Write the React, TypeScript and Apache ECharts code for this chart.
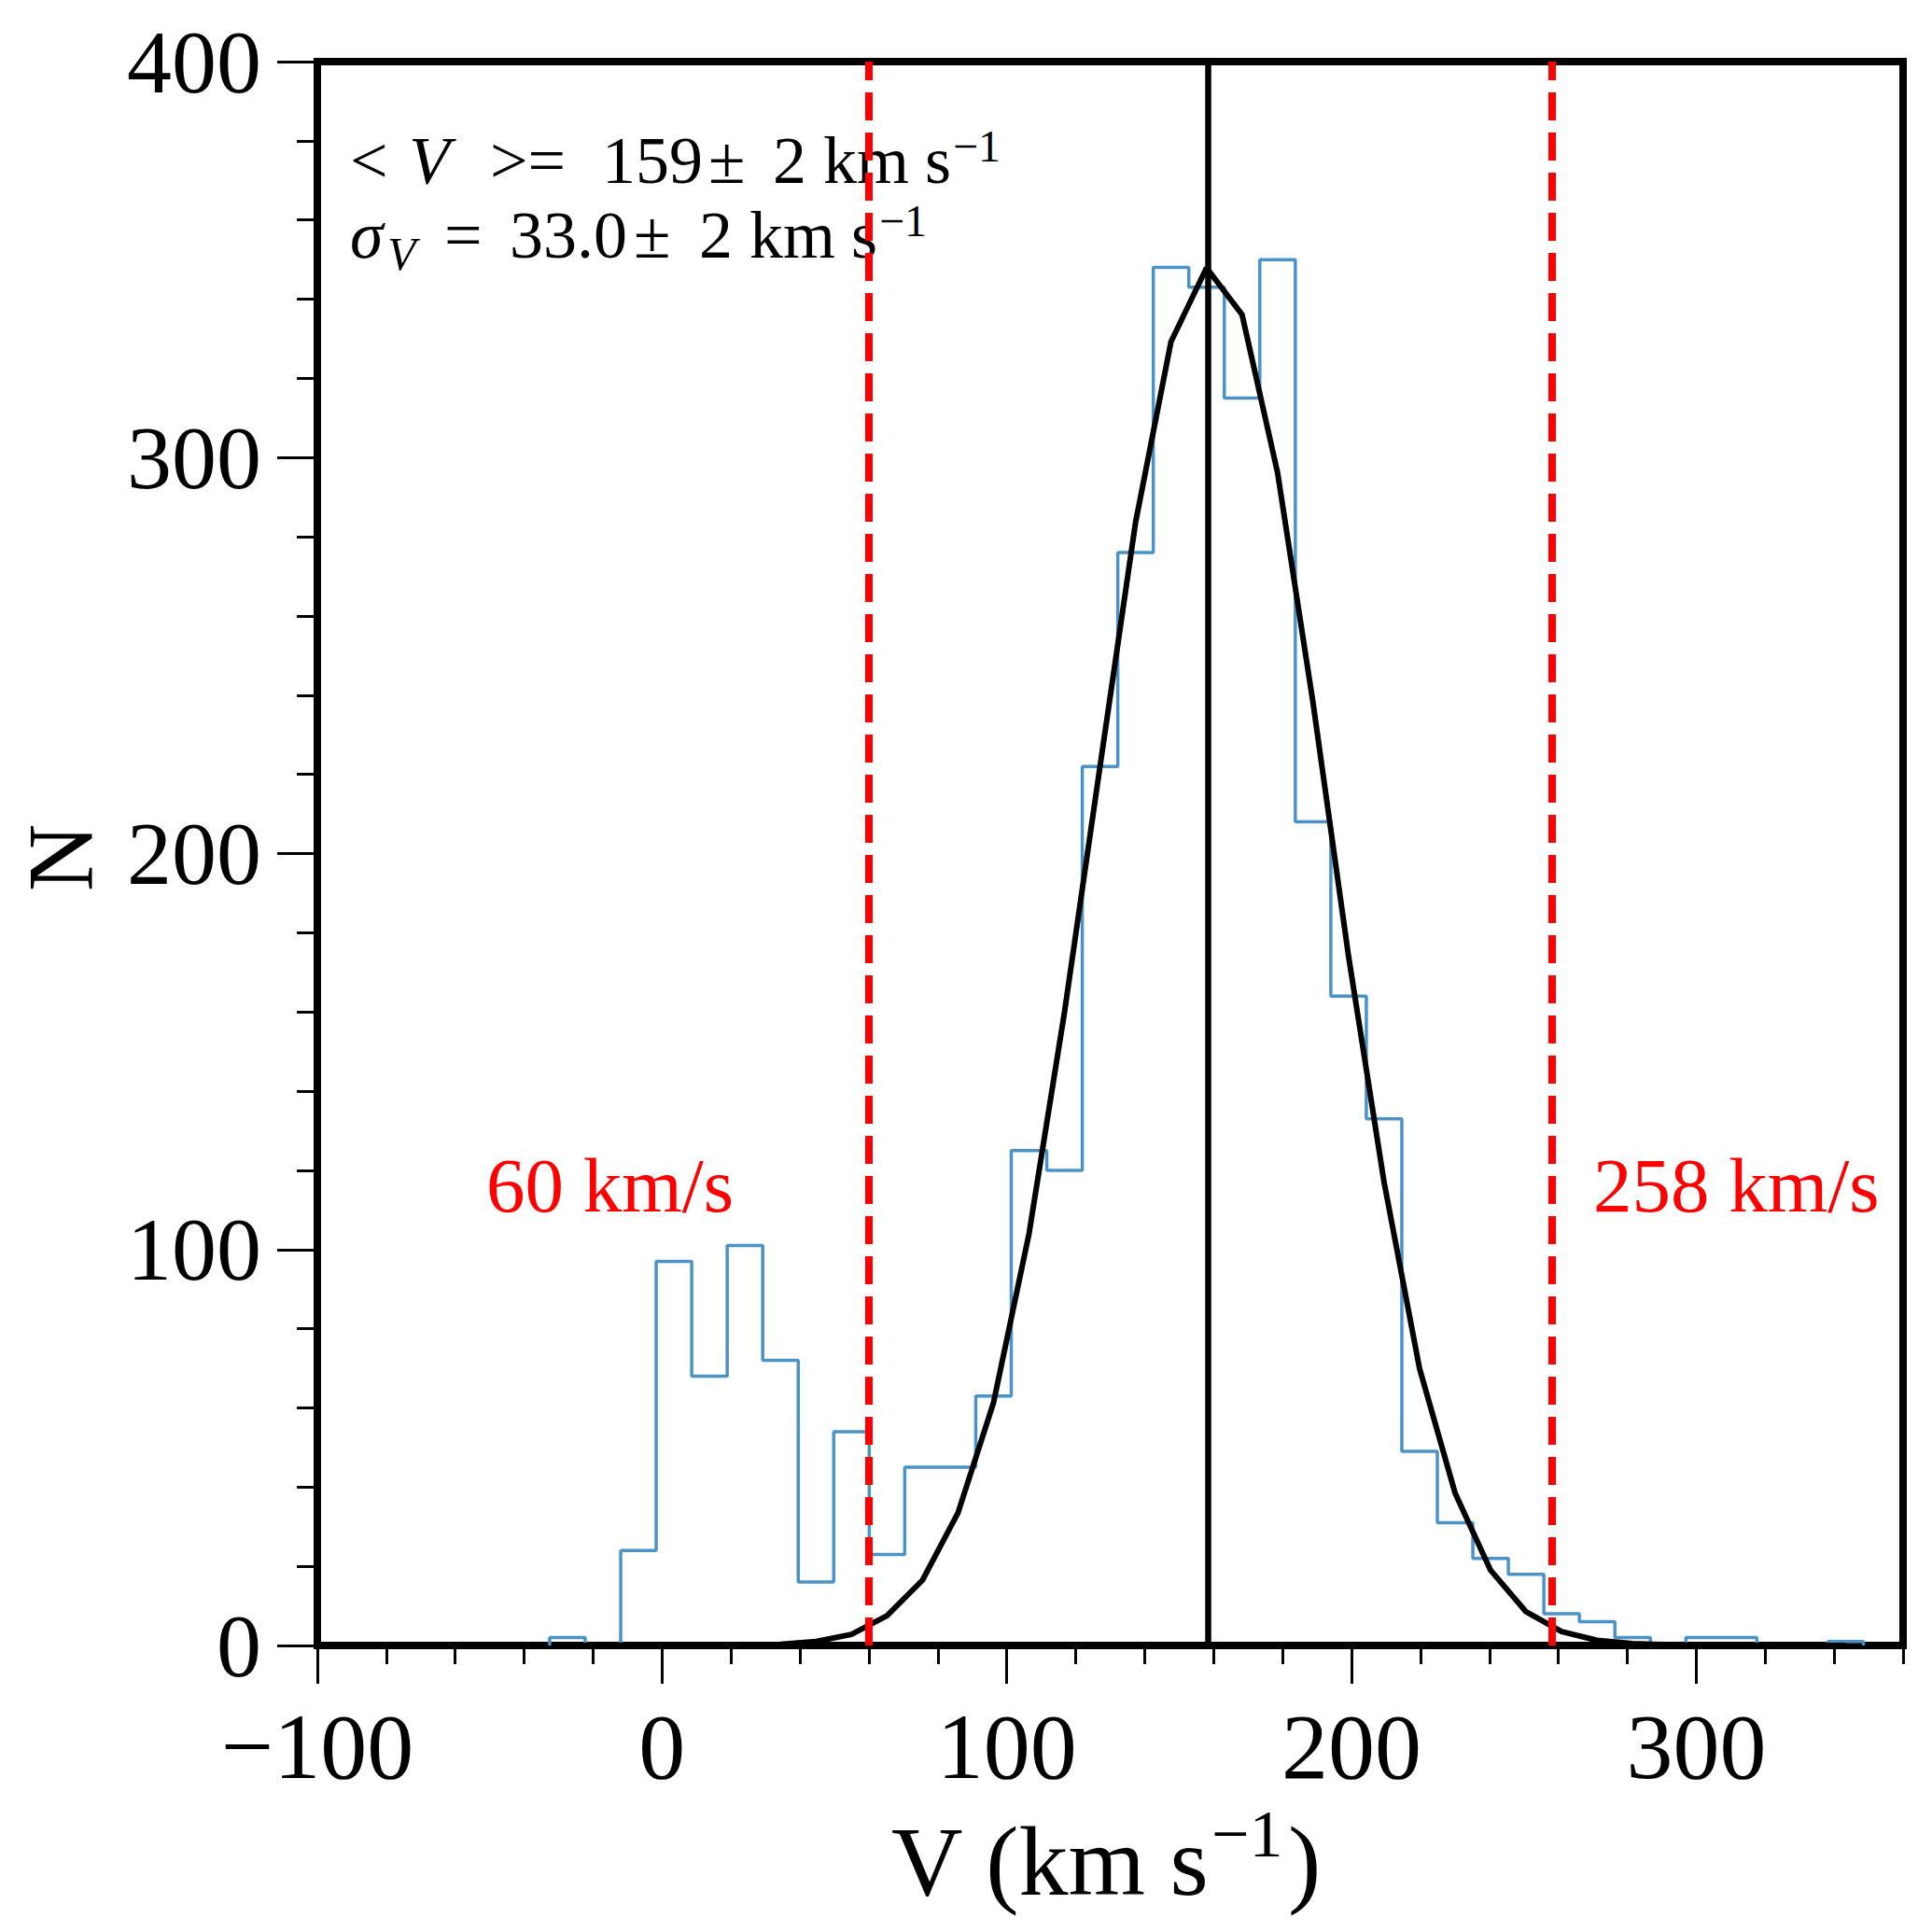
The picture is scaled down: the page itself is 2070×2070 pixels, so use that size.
import React, { useEffect, useRef } from 'react';
import * as echarts from 'echarts';

// ---- data ----
const binEdges = [
  -32.6, -22.3, -12.0, -1.7, 8.6, 18.9, 29.2, 39.5, 49.8, 60.1, 70.4, 80.7, 91.0,
  101.3, 111.6, 121.9, 132.2, 142.5, 152.8, 163.1, 173.4, 183.7, 194.0, 204.3,
  214.6, 224.9, 235.2, 245.5, 255.8, 266.1, 276.4, 286.7, 297.0, 307.3, 317.6,
  327.9, 338.2, 348.5,
];
const counts = [
  2, 0, 24, 97, 68, 101, 72, 16, 54, 23, 45, 45, 63, 125, 120, 222, 276, 348,
  343, 315, 350, 208, 164, 133, 49, 31, 22, 18, 8, 6, 2, 0, 2, 2, 0, 0, 1,
];
const fitValues = [
  0, 0, 0, 0, 0, 0.05, 0.3, 1.0, 2.8, 7.5, 16.5, 33.5, 61.3, 104, 160, 222,
  283.6, 329.3, 347.9, 336.1, 296.2, 238, 174, 117, 69.9, 38.5, 19, 8.5, 3.5,
  1.3, 0.5, 0.2, 0, 0, 0, 0, 0,
];
const meanV = 158.3;
const cutLow = 60;
const cutHigh = 258;
const xMajorTicks = [-100, 0, 100, 200, 300];
const xRange = [-100, 360];
const yRange = [0, 400];

const FONT = 'Liberation Serif';

export default function App() {
  const ref = useRef<HTMLDivElement>(null);

  useEffect(() => {
    document.body.style.margin = '0';
    if (!ref.current) return;
    const chart = echarts.init(ref.current, undefined, { renderer: 'svg' });

    const histPoints: number[][] = [[binEdges[0], 0]];
    counts.forEach((c, i) => {
      histPoints.push([binEdges[i], c], [binEdges[i + 1], c]);
    });
    histPoints.push([binEdges[binEdges.length - 1], 0]);

    const fitPoints = fitValues.map((v, i) => [(binEdges[i] + binEdges[i + 1]) / 2, v]);

    const tickLine = { color: '#000', width: 3 };
    const fmt = (v: number) => (v < 0 ? '\u2212' + Math.abs(v) : String(v));

    const txt = (size: number, extra: any = {}) => ({
      fontSize: size,
      fontFamily: FONT,
      fill: '#000',
      ...extra,
    });

    const A = 72;

    const option: any = {
      animation: false,
      backgroundColor: '#ffffff',
      textStyle: { fontFamily: FONT },
      grid: {
        left: 340,
        top: 66,
        width: 1699,
        height: 1697,
        show: true,
        borderColor: '#000',
        borderWidth: 8,
        backgroundColor: 'transparent',
      },
      xAxis: [
        {
          type: 'value',
          min: xRange[0],
          max: xRange[1],
          interval: 100,
          position: 'bottom',
          axisLine: { show: true, onZero: false, lineStyle: { color: '#000', width: 8 } },
          axisTick: { show: true, inside: false, length: 41, customValues: xMajorTicks, lineStyle: tickLine },
          axisLabel: {
            show: true,
            customValues: xMajorTicks,
            margin: 68,
            fontSize: 100,
            lineHeight: 80,
            fontFamily: FONT,
            color: '#000',
            formatter: fmt,
          },
          splitLine: { show: false },
        },
        {
          type: 'value',
          min: xRange[0],
          max: xRange[1],
          interval: 20,
          position: 'bottom',
          gridIndex: 0,
          axisLine: { show: false, onZero: false },
          axisTick: { show: true, inside: false, length: 20, lineStyle: tickLine },
          axisLabel: { show: false },
          splitLine: { show: false },
        },
      ],
      yAxis: {
        type: 'value',
        min: yRange[0],
        max: yRange[1],
        interval: 100,
        axisLine: { show: true, onZero: false, lineStyle: { color: '#000', width: 8 } },
        axisTick: { show: true, inside: false, length: 43, lineStyle: tickLine },
        minorTick: { show: true, splitNumber: 5, length: 22, lineStyle: tickLine },
        axisLabel: {
          margin: 60,
          fontSize: 96,
          lineHeight: 72,
          fontFamily: FONT,
          color: '#000',
        },
        splitLine: { show: false },
        minorSplitLine: { show: false },
      },
      series: [
        {
          name: 'hist',
          type: 'line',
          data: histPoints,
          showSymbol: false,
          symbol: 'none',
          lineStyle: { color: '#4b93c6', width: 3.5 },
          z: 2,
          silent: true,
        },
        {
          name: 'fit',
          type: 'line',
          data: fitPoints,
          showSymbol: false,
          symbol: 'none',
          lineStyle: { color: '#000', width: 6 },
          z: 3,
          silent: true,
        },
        {
          name: 'lines',
          type: 'line',
          data: [],
          z: 4,
          silent: true,
          markLine: {
            silent: true,
            symbol: ['none', 'none'],
            label: { show: false },
            data: [
              { xAxis: meanV, lineStyle: { color: '#000', width: 6.5, type: 'solid' } },
              { xAxis: cutLow, lineStyle: { color: '#ff0000', width: 8, type: [30, 13] } },
              { xAxis: cutHigh, lineStyle: { color: '#ff0000', width: 8, type: [30, 13] } },
            ],
          },
        },
      ],
      graphic: [
        {
          type: 'text',
          x: 375,
          y: 172,
          style: {
            text: '{a|<}{v|V}{b|>=}{c|159}{d|±}{e|2}{f|km}{g|s}',
            ...txt(A),
            align: 'left',
            verticalAlign: 'middle',
            rich: {
              a: { ...txt(A), width: 63 },
              v: { ...txt(A), fontStyle: 'italic', width: 87 },
              b: { ...txt(A), width: 120 },
              c: { ...txt(A), width: 114 },
              d: { ...txt(A), width: 69 },
              e: { ...txt(A), width: 54 },
              f: { ...txt(A), width: 109 },
              g: { ...txt(A), width: 28 },
            },
          },
        },
        {
          type: 'text',
          x: 1021,
          y: 156,
          style: { text: '\u22121', ...txt(48), align: 'left', verticalAlign: 'middle' },
        },
        {
          type: 'text',
          x: 375,
          y: 252,
          style: {
            text: '{s|σ}{b|=}{c|33.0}{d|±}{e|2}{f|km}{g|s}',
            ...txt(A),
            align: 'left',
            verticalAlign: 'middle',
            rich: {
              s: { ...txt(A), fontStyle: 'italic', width: 101 },
              b: { ...txt(A), width: 70 },
              c: { ...txt(A), width: 133 },
              d: { ...txt(A), width: 70 },
              e: { ...txt(A), width: 54 },
              f: { ...txt(A), width: 109 },
              g: { ...txt(A), width: 28 },
            },
          },
        },
        {
          type: 'text',
          x: 415,
          y: 272,
          style: { text: 'V', ...txt(50), fontStyle: 'italic', align: 'left', verticalAlign: 'middle' },
        },
        {
          type: 'text',
          x: 942,
          y: 236,
          style: { text: '\u22121', ...txt(48), align: 'left', verticalAlign: 'middle' },
        },
        {
          type: 'text',
          x: 521,
          y: 1270,
          style: { text: '60 km/s', ...txt(83), fill: '#ff0000', align: 'left', verticalAlign: 'middle' },
        },
        {
          type: 'text',
          x: 1707,
          y: 1270,
          style: { text: '258 km/s', ...txt(83), fill: '#ff0000', align: 'left', verticalAlign: 'middle' },
        },
        {
          type: 'text',
          x: 64,
          y: 919,
          rotation: Math.PI / 2,
          style: { text: 'N', ...txt(100), align: 'center', verticalAlign: 'middle' },
        },
        {
          type: 'text',
          x: 955,
          y: 1994,
          style: { text: 'V (km s', ...txt(106), align: 'left', verticalAlign: 'middle' },
        },
        {
          type: 'text',
          x: 1298,
          y: 1965,
          style: { text: '\u22121', ...txt(72), align: 'left', verticalAlign: 'middle' },
        },
        {
          type: 'text',
          x: 1380,
          y: 1994,
          style: { text: ')', ...txt(106), align: 'left', verticalAlign: 'middle' },
        },
      ],
    };

    chart.setOption(option);
    return () => {
      chart.dispose();
    };
  }, []);

  return <div ref={ref} style={{ width: 2070, height: 2070 }} />;
}
